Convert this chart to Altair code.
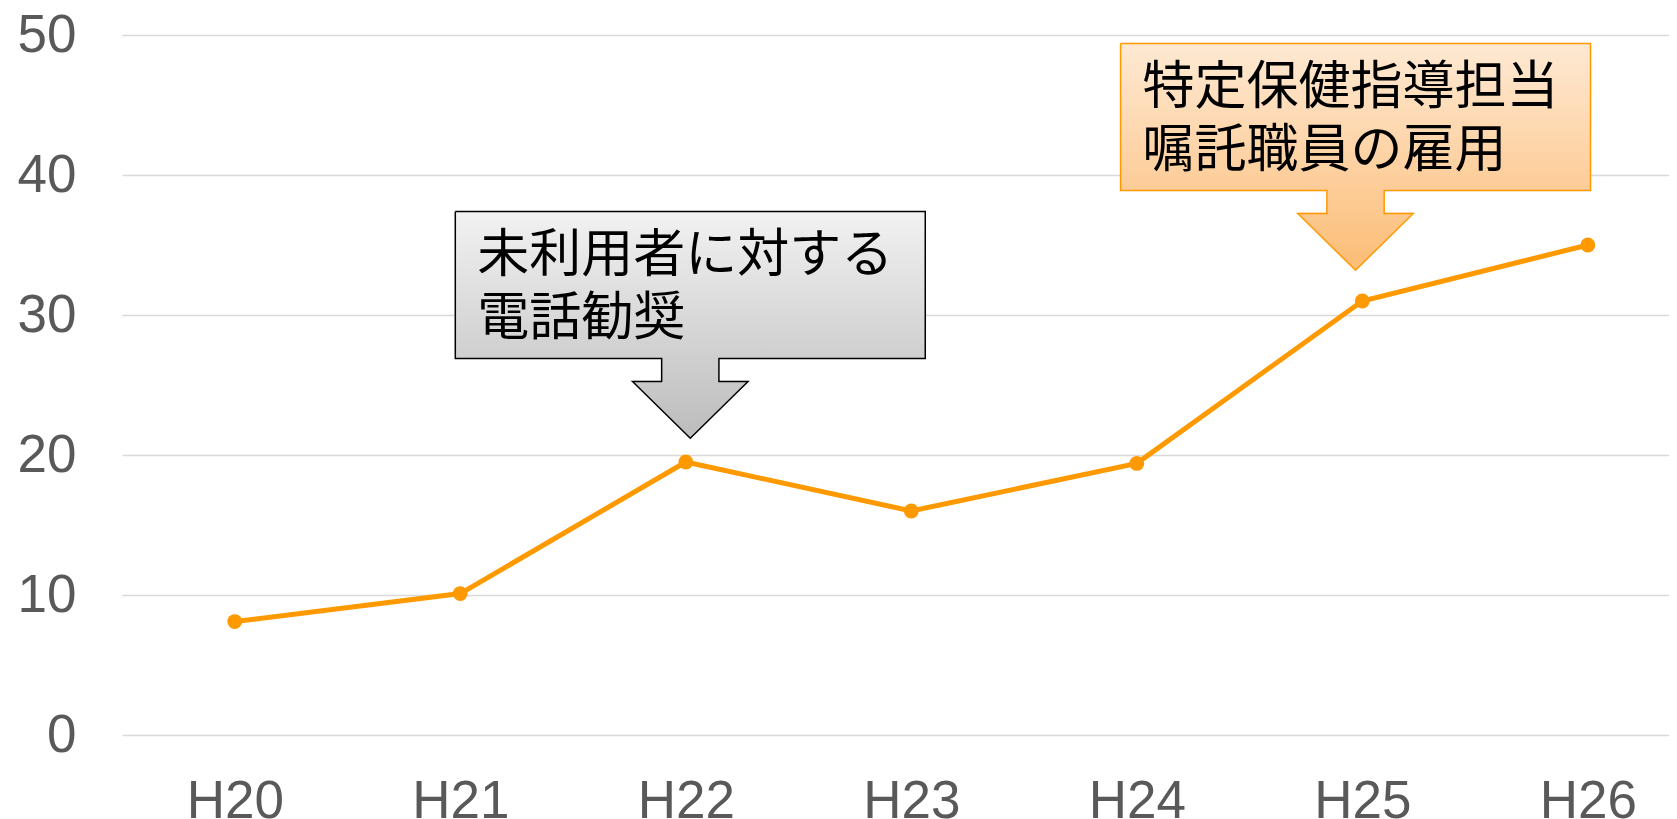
import json
import altair as alt
import pandas as pd

# ---- data ----
years = ["H20", "H21", "H22", "H23", "H24", "H25", "H26"]
values = [8.1, 10.1, 19.5, 16.0, 19.4, 31.0, 35.0]

# callouts: text lines, target year index, tip offset from the target (data units)
callout_lines = [["未利用者に対する", "電話勧奨"], ["特定保健指導担当", "嘱託職員の雇用"]]
callout_target = [2, 5]
callout_dx = [0.02, -0.03]
callout_dy = [1.7, 2.2]

# ---- styling ----
LINE_COLOR = "#ff9900"
GRID = "#d9d9d9"
LABEL = "#595959"
fills = [("#f2f2f2", "#bcbcbc"), ("#fee9d3", "#fcbd76")]
strokes = ["#000000", "#ff9900"]

# callout shape template (relative to tip, data units)
HW, BOX_TOP, BOX_BOT = 1.042, 16.2, 5.7
STEM, HEAD, HEAD_BASE = 0.127, 0.256, 4.05
TEXT_DX, TEXT_LINE1, LINE_H = 0.097, 13.0, 63

X_SCALE = alt.Scale(domain=[-0.5, 6.36], nice=False, zero=False)
Y_SCALE = alt.Scale(domain=[0, 50], nice=False)
X_AXIS = alt.Axis(values=list(range(len(years))), labelExpr=json.dumps(years) + "[datum.value]",
                  grid=False, domain=False, ticks=False, labelFont="Liberation Sans",
                  labelFontSize=53, labelColor=LABEL, labelPadding=82, labelBaseline="alphabetic",
                  labelFlush=False, labelOverlap=False, title=None)
Y_AXIS = alt.Axis(values=[0, 10, 20, 30, 40, 50], grid=True, gridColor=GRID, gridWidth=1.5,
                  domain=False, ticks=False, labelFont="Liberation Sans", labelFontSize=53,
                  labelColor=LABEL, labelPadding=46, title=None)


def X(f):
    return alt.X(f"{f}:Q", scale=X_SCALE, axis=X_AXIS)


def Y(f):
    return alt.Y(f"{f}:Q", scale=Y_SCALE, axis=Y_AXIS)


def hexmix(c1, c2, t):
    a = [int(c1[i:i + 2], 16) for i in (1, 3, 5)]
    b = [int(c2[i:i + 2], 16) for i in (1, 3, 5)]
    return "#" + "".join(f"{round(a[k] + (b[k] - a[k]) * t):02x}" for k in range(3))


def grad(c_top, c_bot, t0, t1):
    return alt.Gradient(gradient="linear", x1=0, x2=0, y1=0, y2=1,
                        stops=[alt.GradientStop(color=hexmix(c_top, c_bot, t0), offset=0),
                               alt.GradientStop(color=hexmix(c_top, c_bot, t1), offset=1)])


main = pd.DataFrame({"i": list(range(len(years))), "year": years, "value": values})

layers = [
    alt.Chart(main).mark_line(color=LINE_COLOR, strokeWidth=5).encode(x=X("i"), y=Y("value")),
    alt.Chart(main).mark_circle(color=LINE_COLOR, size=220, opacity=1).encode(x=X("i"), y=Y("value")),
]

for k in range(len(callout_lines)):
    tx = callout_target[k] + callout_dx[k]
    ty = values[callout_target[k]] + callout_dy[k]
    c_top, c_bot = fills[k]
    f_box = (BOX_TOP - BOX_BOT) / BOX_TOP
    f_stem = (BOX_TOP - HEAD_BASE) / BOX_TOP

    box = pd.DataFrame({"x": [tx - HW], "x2": [tx + HW], "y": [ty + BOX_BOT], "y2": [ty + BOX_TOP]})
    layers.append(alt.Chart(box).mark_rect(fill=grad(c_top, c_bot, 0, f_box), strokeWidth=0).encode(
        x=X("x"), x2="x2", y=Y("y"), y2="y2"))

    stem = pd.DataFrame({"x": [tx - STEM], "x2": [tx + STEM], "y": [ty + HEAD_BASE - 0.05],
                         "y2": [ty + BOX_BOT + 0.15]})
    layers.append(alt.Chart(stem).mark_rect(fill=grad(c_top, c_bot, f_box, f_stem), strokeWidth=0).encode(
        x=X("x"), x2="x2", y=Y("y"), y2="y2"))

    tri = pd.DataFrame({"x": [tx - HEAD, tx, tx + HEAD],
                        "y": [ty + HEAD_BASE + 0.05] * 3,
                        "y2": [ty + HEAD_BASE + 0.05, ty, ty + HEAD_BASE + 0.05]})
    layers.append(alt.Chart(tri).mark_area(fill=grad(c_top, c_bot, f_stem, 1), strokeWidth=0,
                                           opacity=1, interpolate="linear").encode(
        x=X("x"), y=Y("y"), y2="y2"))

    rel = [(-HW, BOX_TOP), (HW, BOX_TOP), (HW, BOX_BOT), (STEM, BOX_BOT), (STEM, HEAD_BASE),
           (HEAD, HEAD_BASE), (0, 0), (-HEAD, HEAD_BASE), (-STEM, HEAD_BASE), (-STEM, BOX_BOT),
           (-HW, BOX_BOT), (-HW, BOX_TOP)]
    outline = pd.DataFrame({"x": [tx + a for a, _ in rel], "y": [ty + b for _, b in rel],
                            "o": list(range(len(rel)))})
    layers.append(alt.Chart(outline).mark_line(color=strokes[k], strokeWidth=1.5, strokeJoin="miter").encode(
        x=X("x"), y=Y("y"), order="o:Q"))

    txt = pd.DataFrame({"x": [tx - HW + TEXT_DX], "y": [ty + TEXT_LINE1],
                        "t": ["\n".join(callout_lines[k])]})
    layers.append(alt.Chart(txt).mark_text(align="left", baseline="middle", font="Noto Sans CJK JP",
                                           fontSize=52, lineBreak="\n", lineHeight=LINE_H,
                                           color="#000000").encode(
        x=X("x"), y=Y("y"), text="t:N"))

chart = alt.layer(*layers).properties(
    width=1547, height=700,
    autosize=alt.AutoSizeParams(type="none"),
    padding={"left": 114, "top": 27, "right": 0, "bottom": 84},
    background="white",
).configure_view(stroke=None)

chart.save("out.html", embed_options={"renderer": "svg", "actions": False})
